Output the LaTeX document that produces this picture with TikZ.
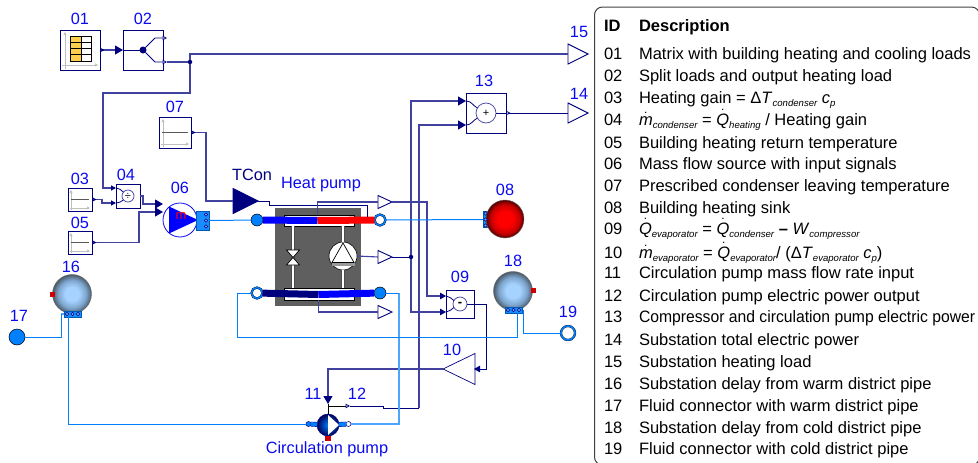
\documentclass[tikz,border=0pt]{standalone}
\usepackage{fontspec}
\usepackage{amsmath}
\usepackage{graphicx}
\setmainfont{Liberation Sans}
\usetikzlibrary{positioning}
\usetikzlibrary{arrows.meta}
\usetikzlibrary{shapes.geometric}
\usetikzlibrary{calc}
\definecolor{sigblue}{RGB}{65,65,160}
\definecolor{navy}{RGB}{0,0,127}
\definecolor{labelblue}{RGB}{10,10,240}
\definecolor{pipeblue}{RGB}{0,127,255}
\definecolor{hpgray}{RGB}{95,95,95}
\definecolor{ballinner}{RGB}{165,210,255}
\definecolor{ballmiddle}{RGB}{125,165,205}
\definecolor{ballouter}{RGB}{75,90,105}
\definecolor{redmiddle}{RGB}{200,0,0}
\definecolor{redouter}{RGB}{85,0,0}
\pgfdeclareradialshading{blueball}{\pgfpointorigin}{color(0bp)=(ballinner); color(9bp)=(ballinner); color(18bp)=(ballmiddle); color(25bp)=(ballouter); color(50bp)=(ballouter)}
\pgfdeclareradialshading{redball}{\pgfpointorigin}{color(0bp)=(red); color(10bp)=(red); color(19bp)=(redmiddle); color(25bp)=(redouter); color(50bp)=(redouter)}
\newcommand{\sbs}[1]{\raisebox{-3.5pt}{\fontsize{9.6}{10}\selectfont\itshape #1}}
\newcommand{\mdot}{$\dot{\mathit{m}}$}
\newcommand{\qdot}{$\dot{\mathit{Q}}$}

\begin{document}
\begin{tikzpicture}
      [ x=1pt, y=-1pt
        , every node/.style={inner sep=0pt, outer sep=0pt}
        , idlabel/.style={text=labelblue, font=\fontsize{16.3}{16.3}\selectfont}
        , rowtext/.style={font=\fontsize{16.5}{18}\selectfont, anchor=base west}
        , blockbox/.style={rectangle, draw=navy, line width=.7pt, fill=white}
        , sigline/.style={draw=sigblue, line width=1.1pt}
        , thinsig/.style={draw=navy, line width=.8pt}
        , pipe/.style={draw=pipeblue, line width=1pt}
        , lightpipe/.style={draw=pipeblue!70, line width=1.2pt}
        , axisline/.style={draw=black!25, line width=.7pt, -{Triangle[length=3pt,width=3pt]}}
        , outtri/.style={isosceles triangle, isosceles triangle stretches, draw=navy, fill=white, line width=.9pt, anchor=apex}
        , opcircle/.style={circle, draw=sigblue, fill=white, line width=.7pt}
        , sigdot/.style={circle, fill=navy, minimum size=4.5pt}
        , fluidport/.style={circle, draw=black, fill=pipeblue, line width=.5pt, minimum size=12pt}
        , openport/.style={circle, draw=black, line width=.3pt, double=pipeblue, double distance=1.6pt, fill=white, minimum size=11pt}
        , portstrip/.style={rectangle, draw=pipeblue!70!black, fill=pipeblue!90, line width=.4pt}
        , portring/.style={circle, draw=navy, fill=pipeblue!60, line width=.5pt, minimum size=3.6pt}
        , substation/.style={circle, draw=black!60, line width=.4pt, minimum size=39pt, shading=blueball}
        , tube/.style={draw=black!70, line width=.5pt, double=white, double distance=2.4pt}
        , outtip/.tip={Triangle[open, fill=white, color=navy, length=4.5pt, width=4.5pt]}
        , backtip/.tip={Triangle[open, fill=white, color=navy, reversed, length=4.5pt, width=4.5pt]}
        , bigtip/.tip={Triangle[color=navy, length=8pt, width=9pt]}
        , midtip/.tip={Triangle[color=navy, length=6pt, width=6.5pt]}
        , smalltip/.tip={Triangle[color=navy, length=5pt, width=5pt]}
      ]
      \useasboundingbox (0,0) rectangle (978,463);

      \node (b01) [blockbox, minimum width=40pt, minimum height=40pt] at (80,50) {};
      \node (b02) [blockbox, minimum width=40pt, minimum height=40pt, right=23pt of b01] {};
      \node (b03) [blockbox, minimum width=24pt, minimum height=23pt] at (80,199.5) {};
      \node (b05) [blockbox, minimum width=24pt, minimum height=23pt, below=20pt of b03] {};
      \node (b04) [blockbox, minimum width=24pt, minimum height=24pt, right=24pt of b03, yshift=3.5pt] {};
      \node (b07) [blockbox, minimum width=32pt, minimum height=31pt] at (175,132.5) {};
      \node (b13) [blockbox, minimum width=40pt, minimum height=40pt] at (486,113) {};
      \node (b09) [blockbox, minimum width=28pt, minimum height=28pt] at (460,304) {};

      \foreach \blk/\ins in {b01/5,b03/3,b05/3,b07/4} {
        \draw[axisline] ($(\blk.south west)+(\ins,-1)$) -- ($(\blk.north west)+(\ins,2)$);
        \draw[axisline] ($(\blk.south west)+(2,-\ins)$) -- ($(\blk.south east)+(-2,-\ins)$);
      }
      \foreach \blk in {b03,b05,b07} {
        \draw[black!65, line width=1pt] ($(\blk.west)+(3,0)$) -- ($(\blk.east)+(-3,0)$);
      }

      \fill[orange!55!yellow!70] (70,36) rectangle (81,61);
      \draw[black, line width=.7pt] (70,36) rectangle (91,61);
      \draw[black, line width=.7pt] (81,36) -- (81,61);
      \foreach \rowline in {42,48,54} {
        \draw[black, line width=.7pt] (70,\rowline) -- (91,\rowline);
      }

      \node (l01) [idlabel, above=5pt of b01] {01};
      \node (l02) [idlabel, above=5pt of b02] {02};
      \node (l03) [idlabel, above=3pt of b03] {03};
      \node (l04) [idlabel, above=3pt of b04, xshift=-2pt] {04};
      \node (l05) [idlabel, above=2pt of b05] {05};
      \node (l07) [idlabel, above=4pt of b07] {07};
      \node (l13) [idlabel, above=6pt of b13, xshift=-2pt] {13};
      \node (l09) [idlabel, above=7pt of b09] {09};

      \node (fork02) [sigdot, minimum size=7pt] at (143,50) {};
      \coordinate (o02a) at ($(b02.east)+(4,-12)$);
      \coordinate (o02b) at ($(b02.east)+(4,12)$);
      \node (j02) [sigdot] at (190,62) {};
      \coordinate (wload) at (103,93);
      \draw[sigline, {backtip}-{bigtip}] (b01.east) -- (b02.west);
      \draw[thinsig] (b02.west) -- (fork02);
      \draw[thinsig, -{outtip}] (fork02) -- ($(fork02)+(12,-12)$) -- (o02a);
      \draw[thinsig, -{outtip}] (fork02) -- ($(fork02)+(12,12)$) -- (o02b);
      \draw[sigline] (o02b) -- (j02);

      \node (t15) [outtri, minimum width=20pt, minimum height=20pt] at (588,54) {};
      \node (t14) [outtri, minimum width=20pt, minimum height=20pt] at (588,113) {};
      \node (l15) [idlabel] at (579,32) {15};
      \node (l14) [idlabel] at (579,94) {14};
      \draw[sigline] (j02) |- (t15.west);

      \coordinate (i04a) at ($(b04.west)+(0,-8)$);
      \coordinate (i04b) at ($(b04.west)+(0,7)$);
      \node (c04) [opcircle, minimum size=12pt, font=\fontsize{11}{11}\selectfont] at (b04) {÷};
      \draw[sigline, -{smalltip}] (j02) |- (wload) |- (i04a);
      \coordinate (w03) at (102,203);
      \draw[sigline, {backtip}-{smalltip}] (b03.east) -| (w03) -- (i04b);
      \draw[thinsig] (i04a) to [out=0, in=140] (c04);
      \draw[thinsig] (i04b) to [out=0, in=220] (c04);

      \node (pump06) [circle, draw=labelblue, fill=white, line width=.8pt, minimum size=34pt] at (180,220) {};
      \node (tri06) [isosceles triangle, isosceles triangle stretches, fill=blue, minimum width=27pt, minimum height=29pt, anchor=apex] at (198,220) {};
      \node (m06) [text=red, font=\fontsize{13}{13}\selectfont] at (181,216) {m};
      \node (l06) [idlabel, above=9pt of pump06] {06};
      \node (s06) [portstrip, minimum width=13pt, minimum height=19pt] at (202.5,220.5) {};
      \foreach \i/\dy in {1/-6,2/0,3/6} {
        \node (ring06\i) [portring] at ($(s06)+(3.5,\dy)$) {};
      }
      \coordinate (i06a) at ($(pump06.west)+(0,-16)$);
      \coordinate (i06b) at ($(pump06.west)+(0,-8)$);
      \coordinate (w04) at (143,204);
      \coordinate (w05) at (139,212);
      \draw[sigline, -{bigtip}] (b04.east) -| (w04) -- (i06a);
      \draw[sigline, {backtip}-{bigtip}] (b05.east) -| (w05) -- (i06b);

      \node (hp) [rectangle, fill=hpgray, minimum width=86pt, minimum height=98pt] at (318,257) {};
      \node (cond) [rectangle, draw=black, fill=white, line width=.6pt, minimum width=70pt, minimum height=11pt] at (319,220.5) {};
      \node (evap) [rectangle, draw=black, fill=white, line width=.6pt, minimum width=70pt, minimum height=12pt] at (319,294) {};
      \node (valve) [inner sep=0pt, minimum size=2pt] at (293,257.5) {};
      \node (comp) [circle, draw=black, fill=white, line width=.6pt, minimum size=28pt] at (343,256) {};
      \draw[tube] (cond.south -| valve) -- (evap.north -| valve);
      \draw[tube] (cond.south -| comp) -- (comp.north);
      \draw[tube] (comp.south) -- (evap.north -| comp);
      \draw[black, fill=white, line width=.7pt] ($(valve)+(-6.5,-7.5)$) -- ($(valve)+(6.5,-7.5)$) -- ($(valve)+(-6.5,7.5)$) -- ($(valve)+(6.5,7.5)$) -- cycle;
      \draw[black!40, line width=3pt] ($(comp)+(-11.5,8)$) -- ($(comp)+(11.5,8)$);
      \draw[black, line width=.7pt] ($(comp)+(0,-13)$) -- ($(comp)+(-11,6.5)$) -- ($(comp)+(11,6.5)$) -- cycle;

      \node (pcondin) [fluidport] at (257,220) {};
      \node (pcondout) [openport] at (380,220) {};
      \node (pevapin) [openport] at (257,293) {};
      \node (pevapout) [fluidport] at (380,293) {};
      \coordinate (condmid) at (317.5,220.5);
      \coordinate (evapmid) at (318.5,294.5);
      \draw[blue, line width=7pt] (pcondin) -- (condmid);
      \draw[red, line width=7pt] (condmid) -- (pcondout);
      \draw[navy, line width=7pt] (pevapin) -- (evapmid);
      \draw[blue, line width=7pt] (evapmid) -- (pevapout);
      \draw[pipe] (s06.east) -- (pcondin);

      \node (tcon) [outtri, draw=navy, fill=navy, minimum width=25pt, minimum height=25pt] at (258,201) {};
      \node (ltcon) [idlabel, text=navy] at (252,175) {TCon};
      \node (lhp) [idlabel] at (321,185) {Heat pump};
      \coordinate (w07) at (206,201);
      \coordinate (wtcon) at (269,205);
      \coordinate (tconin) at (367,216.5);
      \draw[sigline, {backtip}-] (b07.east) -| (w07) -- (tcon.west);
      \draw[thinsig] (tcon.apex) -| (wtcon) -| (tconin);

      \node (tcond) [outtri, minimum width=13pt, minimum height=14pt] at (392,202) {};
      \node (tcomp) [outtri, minimum width=13pt, minimum height=14pt] at (392,257) {};
      \node (tevap) [outtri, minimum width=13pt, minimum height=14pt] at (392,312) {};
      \draw[sigline] (condmid |- cond.north) |- (tcond.west);
      \draw[sigline] (comp.east) -- (tcomp.west);
      \draw[sigline] (evapmid |- evap.south) |- (tevap.west);

      \node (jcomp) [sigdot] at (411,257) {};
      \draw[thinsig] (tcomp.apex) -- (jcomp);

      \coordinate (i13a) at ($(b13.west)+(0,-12)$);
      \coordinate (i13b) at ($(b13.west)+(0,12)$);
      \node (c13) [opcircle, minimum size=20pt, font=\fontsize{11}{11}\selectfont] at (b13) {+};
      \draw[sigline, -{bigtip}] (jcomp) |- (i13a);
      \draw[thinsig] (i13a) to [out=0, in=150] (c13);
      \draw[thinsig] (i13b) to [out=0, in=210] (c13);
      \draw[thinsig] (c13) -- (b13.east);
      \draw[thinsig, {backtip}-] (b13.east) -- (t14.west);

      \coordinate (i09a) at ($(b09.west)+(0,-8)$);
      \coordinate (i09b) at ($(b09.west)+(0,8)$);
      \node (c09) [opcircle, minimum size=14pt, font=\fontsize{13}{13}\bfseries] at (b09) {-};
      \coordinate (w09) at (427,296);
      \draw[sigline, -{midtip}] (tcond.apex) -| (w09) -- (i09a);
      \draw[sigline, -{midtip}] (jcomp) |- (i09b);
      \draw[thinsig] (i09a) to [out=0, in=150] (c09);
      \draw[thinsig] (i09b) to [out=0, in=210] (c09);
      \draw[thinsig] (c09) -- (b09.east);

      \node (t10) [outtri, shape border rotate=180, minimum width=31pt, minimum height=32pt, line width=.7pt] at (443,369) {};
      \node (l10) [idlabel] at (452,350) {10};
      \coordinate (i10) at (474,369);
      \coordinate (w10) at (486,369);
      \draw[thinsig, -{midtip}] (b09.east) -| (w10) -- (i10);

      \node (pump11) [circle, draw=navy, line width=.5pt, minimum size=22pt, shading=radial, inner color=pipeblue, outer color=navy!70!black] at (328,425) {};
      \fill[white] (328,415) -- (339,425) -- (328,435) -- cycle;
      \fill[red!80!black] (325,436) rectangle (331,440.5);
      \node (ppumpl) [portring, fill=pipeblue, minimum size=5pt] at (308.5,424) {};
      \node (ppumpr) [portring, fill=white, minimum size=5pt] at (348.5,424) {};
      \draw[navy, line width=.4pt, double=pipeblue, double distance=4pt] (ppumpl) -- (pump11);
      \draw[navy, line width=.4pt, double=pipeblue, double distance=4pt] (pump11) -- (ppumpr);
      \node (l11) [idlabel] at (313,394) {11};
      \node (l12) [idlabel] at (357,394) {12};
      \node (lcirc) [idlabel] at (327,449) {Circulation pump};
      \coordinate (i11) at (328,404);
      \coordinate (tap) at (328,406);
      \coordinate (o12) at (350,406);
      \coordinate (w12) at (383,408);
      \coordinate (w13) at (419,408);
      \draw[sigline, -{bigtip}] (t10.apex) -| (i11);
      \draw[black, line width=.8pt] (i11) -- (pump11);
      \draw[black, line width=.8pt, -{outtip}] (tap) -- (o12);
      \draw[thinsig] (o12) -| (w12) -- (w13);
      \draw[sigline, -{bigtip}] (w13) |- (i13b);

      \node (s08) [portstrip, minimum width=5pt, minimum height=16pt] at (485.5,219.5) {};
      \node (n08) [circle, draw=black!60, line width=.4pt, minimum size=38pt, shading=redball] at (505,219) {};
      \foreach \i/\dy in {1/-6,2/0,3/6} {
        \node (ring08\i) [portring] at ($(s08)+(0,\dy)$) {};
      }
      \node (l08) [idlabel] at (505,190) {08};
      \draw[pipe] (pcondout) -- (s08.west);

      \node (n16) [substation] at (72,294) {};
      \node (n18) [substation] at (513,291) {};
      \node (heat16) [rectangle, fill=red!80!black, minimum width=5pt, minimum height=5pt] at (52.5,294.5) {};
      \node (heat18) [rectangle, fill=red!80!black, minimum width=5pt, minimum height=5pt] at (533.5,290.5) {};
      \node (s16) [portstrip, minimum width=17pt, minimum height=6pt] at (72.5,314) {};
      \node (s18) [portstrip, minimum width=17pt, minimum height=6pt] at (513.5,310) {};
      \foreach \i/\dx in {1/-5.5,2/0,3/5.5} {
        \node (ring16\i) [portring] at ($(s16)+(\dx,0)$) {};
        \node (ring18\i) [portring] at ($(s18)+(\dx,0)$) {};
      }
      \node (l16) [idlabel] at (71,267) {16};
      \node (l18) [idlabel] at (513,261) {18};

      \node (p17) [fluidport, minimum size=16pt] at (17,337) {};
      \node (p19) [openport, minimum size=14pt] at (568,333) {};
      \node (l17) [idlabel] at (19,316) {17};
      \node (l19) [idlabel] at (568,312) {19};

      \coordinate (w17) at (61,314);
      \coordinate (w18) at (237,337);
      \coordinate (c16a) at (68,317);
      \coordinate (c18a) at (517,313);
      \coordinate (c18b) at (523,310);
      \coordinate (w19) at (399,293);
      \draw[lightpipe] (s16.west) -- (w17);
      \draw[pipe] (w17) |- (p17);
      \draw[pipe] (c16a) |- (ppumpl);
      \draw[lightpipe] (ppumpr) -| (w19);
      \draw[pipe] (w19) -- (pevapout);
      \draw[pipe] (pevapin) -| (w18);
      \draw[pipe] (w18) -| (c18a);
      \draw[pipe] (c18b) |- (p19);

      \draw[black!75, line width=1pt, rounded corners=8pt] (594.5,7) rectangle (979.5,465);

      \node (headid) [rowtext, font=\fontsize{16.5}{18}\bfseries] at (604,31) {ID};
      \node (headdesc) [rowtext, font=\fontsize{16.5}{18}\bfseries] at (639,31) {Description};
      \foreach \rowy/\rowid/\rowdesc in {
        59/01/{Matrix with building heating and cooling loads},
        81/02/{Split loads and output heating load},
        103/03/{Heating gain = Δ\textit{T}\sbs{condenser} \textit{c}\sbs{p}},
        125/04/{\mdot\sbs{condenser} = \qdot\sbs{heating} / Heating gain},
        148/05/{Building heating return temperature},
        169/06/{Mass flow source with input signals},
        191/07/{Prescribed condenser leaving temperature},
        213/08/{Building heating sink},
        234/09/{\qdot\sbs{evaporator} = \qdot\sbs{condenser} \textbf{–} \textit{W}\sbs{compressor}},
        258/10/{\mdot\sbs{evaporator} = \qdot\sbs{evaporator}/ (Δ\textit{T}\sbs{evaporator} \textit{c}\sbs{p})},
        278/11/{Circulation pump mass flow rate input},
        301/12/{Circulation pump electric power output},
        322/13/{\scalebox{.952}[1]{Compressor and circulation pump electric power}},
        345/14/{Substation total electric power},
        367/15/{Substation heating load},
        389/16/{Substation delay from warm district pipe},
        411/17/{Fluid connector with warm district pipe},
        433/18/{Substation delay from cold district pipe},
        454/19/{Fluid connector with cold district pipe}} {
        \node (id\rowid) [rowtext] at (604,\rowy) {\rowid};
        \node (desc\rowid) [rowtext] at (639,\rowy) {\rowdesc};
      }
    \end{tikzpicture}
\end{document}
